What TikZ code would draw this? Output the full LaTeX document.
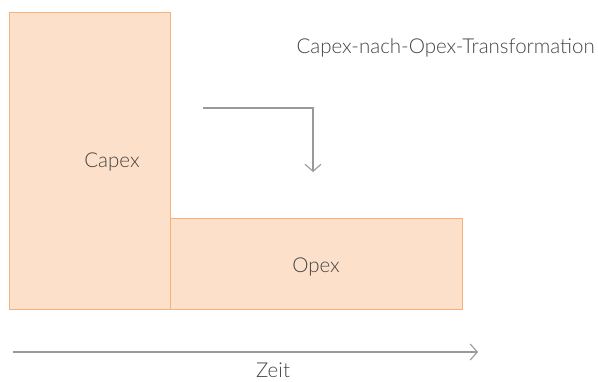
\documentclass[tikz,border=0pt]{standalone}
\usepackage{fontspec}
\setmainfont{Lato}[UprightFont=* Light]
\usetikzlibrary{arrows.meta}
\definecolor{blockfill}{HTML}{FCE0CA}
\definecolor{blockline}{HTML}{F8B07C}
\definecolor{labeltext}{HTML}{444444}
\definecolor{arrowgray}{HTML}{999999}
\begin{document}
\begin{tikzpicture}[x=1pt,y=-1pt,
  block/.style={draw=blockline,fill=blockfill,line width=1pt},
  lbl/.style={text=labeltext,font=\fontsize{20.5}{24}\selectfont,inner sep=0pt},
  flow/.style={draw=arrowgray,line width=1.4pt,-{Straight Barb[length=7pt,width=16pt,line width=1.1pt]}}]
\useasboundingbox (0,0) rectangle (598,381);
% cost blocks
\path[block] (9,12) rectangle (170,309);
\path[block] (170,218) rectangle (462,309);
\node[lbl] (capex) at (112,162) {Capex};
\node[lbl] (opex) at (316,267) {Opex};
% transformation arrow
\coordinate (tstart) at (203,108);
\coordinate (tcorner) at (313,108);
\coordinate (tend) at (313,172);
\draw[flow] (tstart) -- (tcorner) -- (tend);
\node[lbl,anchor=east] (title) at (595,48) {Capex-nach-Opex-Transformation};
% time axis
\coordinate (t0) at (13,352);
\coordinate (t1) at (478,352);
\draw[flow] (t0) -- (t1);
\node[lbl] (zeit) at (273,370) {Zeit};
\end{tikzpicture}
\end{document}
